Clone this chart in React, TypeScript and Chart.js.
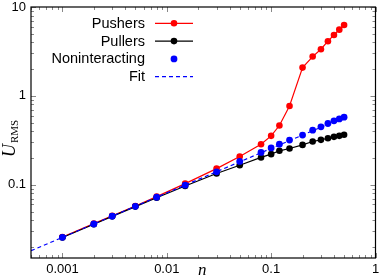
import React, { useEffect, useRef } from "react";
import { Chart, registerables } from "chart.js";

Chart.register(...registerables);

const nValues = [0.001, 0.002, 0.003, 0.005, 0.008, 0.015, 0.03, 0.05, 0.08, 0.1, 0.12, 0.15, 0.2, 0.25, 0.3, 0.35, 0.4, 0.45, 0.5];
const pushers = [0.0258, 0.0365, 0.0447, 0.0578, 0.0735, 0.103, 0.152, 0.208, 0.286, 0.355, 0.464, 0.77, 2.08, 2.77, 3.35, 4.12, 4.85, 5.56, 6.28];
const pullers = [0.0255, 0.036, 0.0441, 0.0568, 0.0715, 0.097, 0.134, 0.166, 0.203, 0.221, 0.241, 0.256, 0.281, 0.307, 0.32, 0.334, 0.346, 0.355, 0.365];
const noninteracting = [0.0256, 0.0362, 0.0443, 0.0572, 0.0724, 0.099, 0.14, 0.183, 0.231, 0.26, 0.286, 0.318, 0.362, 0.411, 0.449, 0.489, 0.524, 0.551, 0.576];
const fitN = [0.0005, 0.5];
const fitU = [0.0181, 0.573];

const xMajorTicks = [0.001, 0.01, 0.1, 1];
const yMajorTicks = [0.1, 1, 10];
const legendLabels = ["Pushers", "Pullers", "Noninteracting", "Fit"];

const X_MIN = 0.0005, X_MAX = 1, Y_MIN = 0.015, Y_MAX = 10;

const toPts = (xs: number[], ys: number[]) => xs.map((x, i) => ({ x, y: ys[i] }));
const fmt = (v: number) => String(Number(v.toPrecision(1)));

function minorValues(min: number, max: number) {
  const out: { v: number; major: boolean }[] = [];
  for (let e = Math.floor(Math.log10(min)); e <= Math.ceil(Math.log10(max)); e++) {
    for (let m = 1; m <= 9; m++) {
      const v = m * Math.pow(10, e);
      if (v >= min * 0.9999 && v <= max * 1.0001) out.push({ v, major: m === 1 });
    }
  }
  return out;
}

const decorPlugin = {
  id: "decor",
  afterDatasetsDraw(chart: any) {
    const { ctx, chartArea: a, scales } = chart;
    const xs = scales.x, ys = scales.y;
    ctx.save();
    // ticks
    ctx.strokeStyle = "#888";
    ctx.lineWidth = 1;
    ctx.beginPath();
    for (const t of minorValues(X_MIN, X_MAX)) {
      const px = Math.round(xs.getPixelForValue(t.v)) + 0.5;
      const L = t.major ? 5 : 3;
      ctx.moveTo(px, a.bottom); ctx.lineTo(px, a.bottom - L);
      ctx.moveTo(px, a.top); ctx.lineTo(px, a.top + L);
    }
    for (const t of minorValues(Y_MIN, Y_MAX)) {
      const py = Math.round(ys.getPixelForValue(t.v)) + 0.5;
      const L = t.major ? 5 : 3;
      ctx.moveTo(a.left, py); ctx.lineTo(a.left + L, py);
      ctx.moveTo(a.right, py); ctx.lineTo(a.right - L, py);
    }
    ctx.stroke();
    // frame
    ctx.strokeStyle = "#000";
    ctx.lineWidth = 1.2;
    ctx.strokeRect(a.left, a.top, a.right - a.left, a.bottom - a.top);

    // legend
    const ds = chart.data.datasets;
    ctx.font = "14.5px 'Liberation Sans', Arial, sans-serif";
    ctx.textAlign = "right";
    ctx.textBaseline = "middle";
    const textRight = 145, sx0 = 155, sx1 = 193, rowY0 = 23.3, rowH = 17.8;
    legendLabels.forEach((lab, i) => {
      const d = ds[i];
      const y = rowY0 + i * rowH;
      ctx.fillStyle = "#000";
      ctx.fillText(lab, textRight, y + 0.5);
      if (d.showLine) {
        ctx.strokeStyle = d.borderColor;
        ctx.lineWidth = d.borderWidth;
        ctx.setLineDash(d.borderDash || []);
        ctx.beginPath();
        ctx.moveTo(sx0, y); ctx.lineTo(sx1, y);
        ctx.stroke();
        ctx.setLineDash([]);
      }
      if (d.pointRadius > 0) {
        ctx.fillStyle = d.pointBackgroundColor;
        ctx.beginPath();
        ctx.arc((sx0 + sx1) / 2, y, d.pointRadius, 0, Math.PI * 2);
        ctx.fill();
      }
    });

    // axis titles
    ctx.fillStyle = "#000";
    ctx.textAlign = "center";
    ctx.textBaseline = "alphabetic";
    ctx.font = "italic 17px 'Liberation Serif', 'Times New Roman', serif";
    ctx.fillText("n", (a.left + a.right) / 2 - 1, 275);

    ctx.translate(15, 157);
    ctx.rotate(-Math.PI / 2);
    ctx.textAlign = "left";
    ctx.font = "italic 18px 'Liberation Serif', 'Times New Roman', serif";
    ctx.fillText("U", 0, 0);
    const w = ctx.measureText("U").width;
    ctx.font = "11px 'Liberation Serif', 'Times New Roman', serif";
    ctx.fillText("RMS", w + 1, 2.5);
    ctx.restore();
  },
};

export default function App() {
  const ref = useRef<HTMLCanvasElement | null>(null);
  useEffect(() => {
    document.body.style.margin = "0";
    if (!ref.current) return;
    const chart = new Chart(ref.current, {
      type: "scatter",
      data: {
        datasets: [
          {
            label: "Pushers",
            data: toPts(nValues, pushers),
            showLine: true,
            borderColor: "#ff0000",
            backgroundColor: "#ff0000",
            pointBackgroundColor: "#ff0000",
            borderWidth: 1.2,
            pointRadius: 3.3,
            pointBorderWidth: 0,
            order: 3,
          },
          {
            label: "Pullers",
            data: toPts(nValues, pullers),
            showLine: true,
            borderColor: "#000000",
            backgroundColor: "#000000",
            pointBackgroundColor: "#000000",
            borderWidth: 1.2,
            pointRadius: 3.3,
            pointBorderWidth: 0,
            order: 2,
          },
          {
            label: "Noninteracting",
            data: toPts(nValues, noninteracting),
            showLine: false,
            borderColor: "#0000ff",
            backgroundColor: "#0000ff",
            pointBackgroundColor: "#0000ff",
            borderWidth: 0,
            pointRadius: 3.4,
            pointBorderWidth: 0,
            order: 0,
          },
          {
            label: "Fit",
            data: toPts(fitN, fitU),
            showLine: true,
            borderColor: "#0000ff",
            backgroundColor: "#0000ff",
            pointBackgroundColor: "#0000ff",
            borderWidth: 1.2,
            borderDash: [4, 3],
            pointRadius: 0,
            order: 1,
          },
        ] as any,
      },
      options: {
        animation: false,
        responsive: true,
        maintainAspectRatio: false,
        layout: { padding: { top: 7, right: 6.5, left: 0, bottom: 0 } },
        plugins: { legend: { display: false }, tooltip: { enabled: false } },
        scales: {
          x: {
            type: "logarithmic",
            min: X_MIN,
            max: X_MAX,
            grid: { display: false, drawTicks: false },
            border: { display: false },
            afterBuildTicks: (s: any) => { s.ticks = xMajorTicks.map((v) => ({ value: v })); },
            afterFit: (s: any) => { s.height = 18; s.paddingLeft = 0; s.paddingRight = 0; },
            ticks: {
              autoSkip: false,
              maxRotation: 0,
              padding: 4,
              color: "#000",
              font: { family: "'Liberation Sans', Arial, sans-serif", size: 13 },
              callback: (v: any) => fmt(Number(v)),
            },
          },
          y: {
            type: "logarithmic",
            min: Y_MIN,
            max: Y_MAX,
            grid: { display: false, drawTicks: false },
            border: { display: false },
            afterBuildTicks: (s: any) => { s.ticks = yMajorTicks.map((v) => ({ value: v })); },
            afterFit: (s: any) => { s.width = 31; s.paddingTop = 0; s.paddingBottom = 0; },
            ticks: {
              autoSkip: false,
              padding: 5,
              color: "#000",
              font: { family: "'Liberation Sans', Arial, sans-serif", size: 13 },
              callback: (v: any) => fmt(Number(v)),
            },
          },
        },
      } as any,
      plugins: [decorPlugin],
    });
    return () => chart.destroy();
  }, []);
  return (
    <div style={{ width: 382, height: 276, position: "relative" }}>
      <canvas ref={ref} />
    </div>
  );
}
